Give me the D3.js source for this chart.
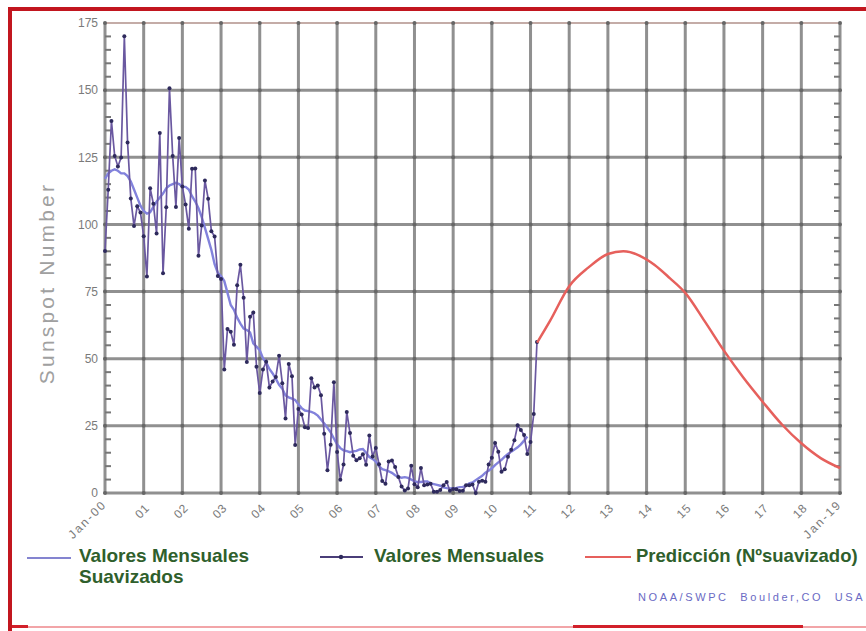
<!DOCTYPE html>
<html>
<head>
<meta charset="utf-8">
<script src="https://cdn.jsdelivr.net/npm/d3@7"></script>
<style>
  html, body { margin: 0; padding: 0; background: #fff; }
  svg { display: block; font-family: Arial, "Liberation Sans", sans-serif; }
</style>
</head>
<body>
<svg id="chart" width="866" height="631"></svg>
<script>
// ---------- DATA ----------
// Monthly sunspot numbers, Jan 2000 .. Mar 2011
const monthly = [
  90.1, 112.9, 138.5, 125.5, 121.6, 124.9, 170.1, 130.5, 109.7, 99.4, 106.8, 104.4,
  95.6, 80.6, 113.5, 107.7, 96.6, 134.0, 81.8, 106.4, 150.7, 125.5, 106.5, 132.2,
  114.1, 107.4, 98.4, 120.7, 120.8, 88.3, 99.6, 116.4, 109.6, 97.5, 95.5, 80.8,
  79.7, 46.0, 61.1, 60.0, 55.2, 77.4, 85.0, 72.7, 48.8, 65.6, 67.2, 47.0,
  37.2, 46.0, 48.9, 39.3, 41.5, 43.2, 51.1, 40.9, 27.7, 48.0, 43.5, 17.9,
  31.3, 29.2, 24.5, 24.2, 42.7, 39.3, 40.0, 36.4, 22.1, 8.5, 18.0, 41.2,
  15.3, 4.9, 10.6, 30.2, 22.3, 13.9, 12.2, 12.9, 14.4, 10.5, 21.4, 13.6,
  16.8, 10.7, 4.5, 3.4, 11.7, 12.1, 9.7, 6.0, 2.4, 0.9, 1.7, 10.1,
  3.3, 2.1, 9.3, 2.9, 3.2, 3.4, 0.5, 0.5, 1.1, 2.9, 4.1, 0.8,
  1.5, 1.4, 0.7, 0.8, 2.9, 2.9, 3.2, 0.0, 4.2, 4.6, 4.2, 10.6,
  13.1, 18.6, 15.4, 7.9, 8.8, 13.5, 16.1, 19.6, 25.2, 23.5, 21.6, 14.5,
  19.0, 29.4, 56.2
];
// Smoothed monthly values, Jan 2000 .. Dec 2010
const smoothed = [
  117, 119, 120, 120.5, 120, 119, 119, 118, 116, 113, 110, 107,
  105, 104, 104.5, 106.5, 108.5, 110, 111.5, 113.5, 114.5, 115, 115.5, 115,
  114, 114, 113, 110.5, 108.5, 106, 102.7, 98.7, 94.6, 90.5, 85.2, 82.0,
  80.8, 78.9, 74.5, 70.0, 68.2, 65.3, 63.1, 61.2, 60.7, 59.8, 55.7, 54.5,
  53.2, 50.2, 48.6, 46.2, 44.5, 42.5, 40.3, 38.8, 36.3, 35.6, 35.1, 34.6,
  33.0, 31.6, 30.7, 30.5, 30.2, 29.7, 28.8, 27.4, 25.9, 24.3, 22.6, 20.3,
  18.1, 16.7, 15.9, 15.6, 15.2, 15.5, 15.7, 16.2, 16.4, 15.0, 13.4, 12.7,
  11.7, 10.0, 8.9, 8.5, 8.1, 7.5, 6.6, 5.9, 5.7, 5.9, 5.6, 5.0,
  4.3, 4.1, 4.1, 4.3, 4.3, 3.6, 3.3, 3.0, 2.7, 2.1, 1.8, 1.7,
  1.8, 1.9, 2.2, 2.3, 2.7, 3.6, 3.9, 4.8, 5.6, 6.4, 7.6, 8.3,
  9.2, 10.4, 11.4, 12.3, 13.5, 14.5, 15.4, 16.2, 17.0, 18.1, 19.5, 21.0
];
// Prediction (smoothed) curve
const predYears  = [2011.17, 2011.5, 2012.0, 2012.5, 2013.0, 2013.4, 2013.8, 2014.2, 2014.6, 2015.0, 2015.5, 2016.0, 2016.5, 2017.0, 2017.5, 2018.0, 2018.5, 2019.0];
const predValues = [56, 64, 77, 84, 89, 90, 88.5, 85, 80, 74.5, 64, 53, 43, 34, 25.5, 18.5, 13, 9.3];

const yTicks = [0, 25, 50, 75, 100, 125, 150, 175];
const xTickYears = d3.range(2000, 2020);
const xTickLabels = ["Jan-00","01","02","03","04","05","06","07","08","09","10","11","12","13","14","15","16","17","18","Jan-19"];

const legendLabels = [["Valores Mensuales", "Suavizados"], ["Valores Mensuales"], ["Predicción (Nºsuavizado)"]];
const yTitle = "Sunspot Number";
const credit = "NOAA/SWPC Boulder,CO USA";

// ---------- DRAW ----------
const svg = d3.select("#chart");
const L = 105, R = 840, T = 23, B = 493;
const x = d3.scaleLinear().domain([2000, 2019]).range([L, R]);
const y = d3.scaleLinear().domain([0, 175]).range([B, T]);

svg.append("rect").attr("width", 866).attr("height", 631).attr("fill", "#fff");

// red frame
svg.append("rect").attr("x", 8).attr("y", 7).attr("width", 858).attr("height", 4).attr("fill", "#c2161f");
svg.append("rect").attr("x", 8).attr("y", 7).attr("width", 4).attr("height", 624).attr("fill", "#c2161f");
svg.append("rect").attr("x", 12).attr("y", 626).attr("width", 854).attr("height", 2).attr("fill", "#f2a5a8");
svg.append("rect").attr("x", 573).attr("y", 625).attr("width", 230).attr("height", 3).attr("fill", "#d2202a");
svg.append("rect").attr("x", 12).attr("y", 625).attr("width", 16).attr("height", 3).attr("fill", "#d2202a");

// grid
const grid = svg.append("g");
grid.selectAll("line.h").data(yTicks.filter(d => d > 0 && d < 175)).join("line")
  .attr("x1", L).attr("x2", R).attr("y1", d => y(d)).attr("y2", d => y(d))
  .attr("stroke", "#909090").attr("stroke-width", 3);
grid.selectAll("line.v").data(xTickYears.filter(d => d > 2000 && d < 2019)).join("line")
  .attr("y1", T).attr("y2", B).attr("x1", d => x(d)).attr("x2", d => x(d))
  .attr("stroke", "#909090").attr("stroke-width", 3);
// frame
grid.append("line").attr("x1", L).attr("x2", R).attr("y1", T).attr("y2", T).attr("stroke", "#8a5a50").attr("stroke-width", 1.2);
grid.append("line").attr("x1", L).attr("x2", R).attr("y1", B).attr("y2", B).attr("stroke", "#909090").attr("stroke-width", 3);
grid.append("line").attr("x1", L).attr("x2", L).attr("y1", T).attr("y2", B + 1).attr("stroke", "#909090").attr("stroke-width", 3);
grid.append("line").attr("x1", R).attr("x2", R).attr("y1", T).attr("y2", B + 1).attr("stroke", "#909090").attr("stroke-width", 3);
// intersection dots
const inter = [];
xTickYears.forEach(a => yTicks.forEach(b => inter.push([a, b])));
grid.selectAll("circle").data(inter).join("circle")
  .attr("cx", d => x(d[0])).attr("cy", d => y(d[1])).attr("r", 2).attr("fill", "#666");

// minor ticks
const minor = d3.range(0, 176, 5).filter(d => d % 25 !== 0);
grid.selectAll("line.ml").data(minor).join("line")
  .attr("x1", L).attr("x2", L + 6).attr("y1", d => y(d)).attr("y2", d => y(d))
  .attr("stroke", "#777").attr("stroke-width", 2);
grid.selectAll("line.mr").data(minor).join("line")
  .attr("x1", R - 6).attr("x2", R).attr("y1", d => y(d)).attr("y2", d => y(d))
  .attr("stroke", "#777").attr("stroke-width", 2);

// y axis labels
const yAxis = d3.axisLeft(y).tickValues(yTicks).tickSize(0).tickPadding(7);
const gy = svg.append("g").attr("transform", `translate(${L},0)`).call(yAxis);
gy.select(".domain").remove();
gy.selectAll("text").attr("fill", "#7a7a7a").attr("font-size", 12).attr("font-family", "Arial, 'Liberation Sans', sans-serif");

// x axis labels
const xAxis = d3.axisBottom(x).tickValues(xTickYears).tickSize(0).tickFormat((d, i) => xTickLabels[i]);
const gx = svg.append("g").attr("transform", `translate(0,${B})`).call(xAxis);
gx.select(".domain").remove();
gx.selectAll("text")
  .attr("fill", "#7a7a7a").attr("font-size", 12).attr("font-family", "Arial, 'Liberation Sans', sans-serif")
  .attr("text-anchor", "end").attr("dy", null).attr("y", null)
  .attr("letter-spacing", (d, i) => xTickLabels[i].length > 2 ? 2 : 0.5)
  .attr("transform", (d, i) => `translate(${xTickLabels[i].length > 2 ? 2 : 6},${xTickLabels[i].length > 2 ? 12 : 16}) rotate(-45)`);

// y title
svg.append("text").attr("transform", "translate(54,283) rotate(-90)")
  .attr("text-anchor", "middle").attr("fill", "#a0a0a0").attr("font-size", 21)
  .attr("letter-spacing", 3.2).text(yTitle);

// series
const plot = svg.append("g");
const monthlyPts = monthly.map((v, i) => [2000 + i / 12, v]);
const smoothPts = smoothed.map((v, i) => [2000 + i / 12, v]);
const predPts = predYears.map((yr, i) => [yr, predValues[i]]);

plot.append("path").datum(smoothPts)
  .attr("d", d3.line().x(d => x(d[0])).y(d => y(d[1])))
  .attr("fill", "none").attr("stroke", "#8282dc").attr("stroke-width", 2.4);
plot.append("path").datum(monthlyPts)
  .attr("d", d3.line().x(d => x(d[0])).y(d => y(d[1])))
  .attr("fill", "none").attr("stroke", "#6a58a0").attr("stroke-width", 1.7);
plot.selectAll("circle.m").data(monthlyPts).join("circle")
  .attr("cx", d => x(d[0])).attr("cy", d => y(d[1])).attr("r", 2)
  .attr("fill", "#2e2a5c");
plot.append("path").datum(predPts)
  .attr("d", d3.line().curve(d3.curveMonotoneX).x(d => x(d[0])).y(d => y(d[1])))
  .attr("fill", "none").attr("stroke", "#e6605c").attr("stroke-width", 2.5);

// legend
const lg = svg.append("g").attr("font-family", "Arial, 'Liberation Sans', sans-serif")
  .attr("font-weight", "bold").attr("font-size", 19).attr("fill", "#2f5f2c");
lg.append("line").attr("x1", 27).attr("x2", 71).attr("y1", 558).attr("y2", 558).attr("stroke", "#8484d0").attr("stroke-width", 2);
const t1 = lg.append("text").attr("x", 79).attr("y", 562);
t1.append("tspan").attr("x", 79).text(legendLabels[0][0]);
t1.append("tspan").attr("x", 79).attr("dy", 21).text(legendLabels[0][1]);
lg.append("line").attr("x1", 320).attr("x2", 363).attr("y1", 557).attr("y2", 557).attr("stroke", "#4a3e78").attr("stroke-width", 2);
lg.append("circle").attr("cx", 341).attr("cy", 557).attr("r", 2.2).attr("fill", "#2e2a5c");
lg.append("text").attr("x", 374).attr("y", 562).text(legendLabels[1][0]);
lg.append("line").attr("x1", 585).attr("x2", 631).attr("y1", 557).attr("y2", 557).attr("stroke", "#e6605c").attr("stroke-width", 2);
lg.append("text").attr("x", 636).attr("y", 562).attr("font-size", 18.5).text(legendLabels[2][0]);

svg.append("text").attr("x", 638).attr("y", 601).attr("fill", "#6a6ac4")
  .attr("font-size", 11).attr("letter-spacing", 2.6).attr("word-spacing", 6).text(credit);
</script>
</body>
</html>
